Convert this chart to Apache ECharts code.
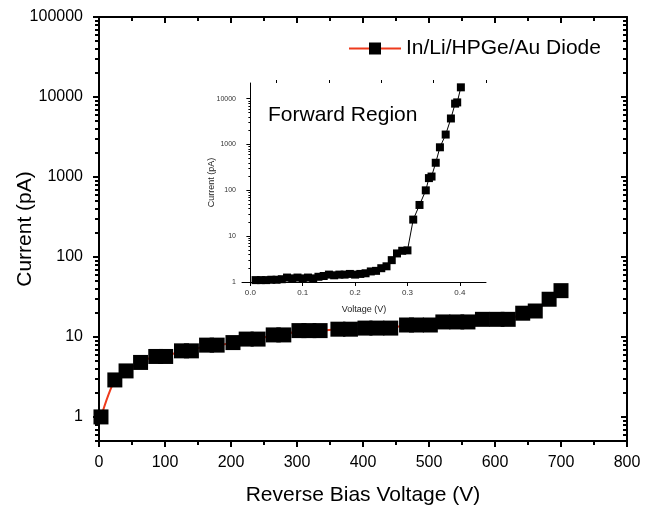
<!DOCTYPE html>
<html>
<head>
<meta charset="utf-8">
<script src="https://cdn.jsdelivr.net/npm/echarts@6/dist/echarts.min.js"></script>
<style>
html, body { margin: 0; padding: 0; background: #fff; }
#chart { width: 656px; height: 513px; }
</style>
</head>
<body>
<div id="chart"></div>
<script>
// reverse bias sweep (main plot)
const reverseVoltage = [3, 24, 41, 63, 86, 101, 125, 140, 163, 179, 203, 223, 241, 264, 280, 303, 318, 335,
  362, 381, 403, 421, 442, 466, 481, 502, 521, 542, 559, 581, 603, 620, 642, 661, 682, 700]
const reverseCurrent = [1.0, 2.9, 3.76, 4.8, 5.7, 5.7, 6.7, 6.7, 7.9, 7.9, 8.5, 9.4, 9.4, 10.6, 10.6, 12.0, 12.0, 12.0,
  12.5, 12.5, 12.9, 12.9, 12.9, 14.1, 14.1, 14.1, 15.4, 15.4, 15.4, 16.6, 16.6, 16.6, 19.8, 21.1, 29.6, 37.9]

// forward region (inset)
const forwardVoltage = [0.01, 0.02, 0.03, 0.04, 0.05, 0.06, 0.07, 0.08, 0.09, 0.10, 0.11, 0.12, 0.13, 0.14, 0.15,
  0.16, 0.17, 0.18, 0.19, 0.20, 0.21, 0.22, 0.23, 0.24, 0.25, 0.26, 0.27, 0.28, 0.29, 0.30,
  0.311, 0.323, 0.335, 0.341, 0.346, 0.354, 0.362, 0.373, 0.383, 0.391, 0.395, 0.402]
const forwardCurrent = [1.1, 1.1, 1.1, 1.12, 1.12, 1.15, 1.25, 1.2, 1.25, 1.2, 1.25, 1.2, 1.3, 1.35, 1.45,
  1.4, 1.45, 1.45, 1.5, 1.45, 1.5, 1.55, 1.7, 1.75, 2.0, 2.2, 3.0, 4.2, 4.8, 4.9,
  23, 48, 100, 185, 200, 400, 870, 1650, 3700, 7800, 8300, 17700]

const mainYTicks = [1, 10, 100, 1000, 10000, 100000]
const insetYTicks = [1, 10, 100, 1000, 10000]
const insetXTicks = [0, 0.1, 0.2, 0.3, 0.4]
const insetXMinor = [0.05, 0.15, 0.25, 0.35, 0.45]

function minorLog(from, to) {
  const out = []
  for (let d = from; d < to; d *= 10) {
    for (let k = 2; k <= 9; k++) out.push(k * d)
  }
  return out
}
const mainYMinor = minorLog(0.1, 100000).filter(v => v >= 0.5)
const insetYMinor = minorLog(1, 10000).filter(v => v <= 22000)

const FONT = 'Liberation Sans'
const black = '#000'

const chart = echarts.init(document.getElementById('chart'))

function logAxis(opt) {
  return Object.assign({
    type: 'log',
    logBase: 10,
    splitLine: { show: false },
    axisLabel: { show: false },
    axisLine: { show: false }
  }, opt)
}

chart.setOption({
  animation: false,
  backgroundColor: '#fff',
  textStyle: { fontFamily: FONT },
  grid: [
    { left: 99, right: 29, top: 17, bottom: 72, outerBoundsMode: 'none', containLabel: false },
    { left: 242, right: 170, top: 83, bottom: 231, outerBoundsMode: 'none', containLabel: false }
  ],
  legend: {
    data: ['In/Li/HPGe/Au Diode'],
    left: 343,
    top: 33,
    itemWidth: 52,
    itemHeight: 15,
    itemGap: 6,
    textStyle: { fontSize: 21, color: black, fontFamily: FONT }
  },
  graphic: [{
    type: 'text',
    left: 268,
    top: 105,
    style: { text: 'Forward Region', fontSize: 21, fontFamily: FONT, fill: black }
  }],
  xAxis: [
    {
      gridIndex: 0,
      type: 'value',
      position: 'bottom',
      min: 0,
      max: 800,
      interval: 100,
      name: 'Reverse Bias Voltage (V)',
      nameLocation: 'middle',
      nameGap: 44,
      nameMoveOverlap: false,
      nameTextStyle: { fontSize: 21, color: black, fontFamily: FONT },
      axisLine: { lineStyle: { color: black, width: 2 } },
      axisTick: { length: 6, lineStyle: { color: black, width: 2 } },
      minorTick: { show: true, splitNumber: 2, length: 4, lineStyle: { color: black, width: 2 } },
      axisLabel: { fontSize: 16, color: black, margin: 14, fontFamily: FONT },
      splitLine: { show: false }
    },
    {
      gridIndex: 0,
      type: 'value',
      position: 'top',
      min: 0,
      max: 800,
      interval: 100,
      axisLine: { lineStyle: { color: black, width: 2 } },
      axisTick: { inside: true, length: 6, lineStyle: { color: black, width: 2 } },
      minorTick: { show: true, splitNumber: 2, length: 4, lineStyle: { color: black, width: 2 } },
      axisLabel: { show: false },
      splitLine: { show: false }
    },
    {
      gridIndex: 1,
      type: 'value',
      min: -0.016,
      max: 0.45,
      name: 'Voltage (V)',
      nameLocation: 'middle',
      nameGap: 23,
      nameMoveOverlap: false,
      nameTextStyle: { fontSize: 9, color: '#222', fontFamily: FONT },
      axisLine: { lineStyle: { color: black, width: 1 } },
      axisTick: { customValues: insetXTicks, length: 4, lineStyle: { color: black } },
      axisLabel: {
        customValues: insetXTicks,
        formatter: v => v.toFixed(1),
        fontSize: 8, color: '#333', margin: 7, fontFamily: FONT
      },
      splitLine: { show: false }
    },
    {
      gridIndex: 1,
      type: 'value',
      min: -0.016,
      max: 0.45,
      axisLine: { show: false },
      axisTick: { customValues: insetXMinor, length: 3, lineStyle: { color: black } },
      axisLabel: { show: false },
      splitLine: { show: false }
    }
  ],
  yAxis: [
    logAxis({
      gridIndex: 0,
      position: 'left',
      min: 0.5,
      max: 100000,
      name: 'Current (pA)',
      nameLocation: 'middle',
      nameGap: 63,
      nameMoveOverlap: false,
      nameTextStyle: { fontSize: 21, color: black, fontFamily: FONT },
      axisLine: { show: true, lineStyle: { color: black, width: 2 } },
      axisTick: { customValues: mainYTicks, length: 6, lineStyle: { color: black, width: 2 } },
      axisLabel: {
        customValues: mainYTicks,
        formatter: v => String(Math.round(v)),
        fontSize: 16, color: black, margin: 16, fontFamily: FONT
      }
    }),
    logAxis({
      gridIndex: 0,
      position: 'left',
      min: 0.5,
      max: 100000,
      axisTick: { customValues: mainYMinor, length: 4, lineStyle: { color: black, width: 2 } }
    }),
    logAxis({
      gridIndex: 0,
      position: 'right',
      min: 0.5,
      max: 100000,
      axisLine: { show: true, lineStyle: { color: black, width: 2 } },
      axisTick: { inside: true, customValues: mainYTicks, length: 6, lineStyle: { color: black, width: 2 } }
    }),
    logAxis({
      gridIndex: 0,
      position: 'right',
      min: 0.5,
      max: 100000,
      axisTick: { inside: true, customValues: mainYMinor, length: 4, lineStyle: { color: black, width: 2 } }
    }),
    logAxis({
      gridIndex: 1,
      position: 'left',
      min: 1,
      max: 22000,
      name: 'Current (pA)',
      nameLocation: 'middle',
      nameGap: 26,
      nameMoveOverlap: false,
      nameTextStyle: { fontSize: 9, color: '#222', fontFamily: FONT },
      axisLine: { show: true, lineStyle: { color: black, width: 1 } },
      axisTick: { customValues: insetYTicks, length: 4, lineStyle: { color: black } },
      axisLabel: {
        customValues: insetYTicks,
        formatter: v => String(Math.round(v)),
        fontSize: 7, color: '#333', margin: 6, fontFamily: FONT
      }
    }),
    logAxis({
      gridIndex: 1,
      position: 'left',
      min: 1,
      max: 22000,
      axisTick: { customValues: insetYMinor, length: 2, lineStyle: { color: black } }
    })
  ],
  series: [
    {
      name: 'In/Li/HPGe/Au Diode',
      type: 'line',
      xAxisIndex: 0,
      yAxisIndex: 0,
      smooth: 0.3,
      symbol: 'rect',
      symbolSize: 15,
      itemStyle: { color: black },
      lineStyle: { color: '#ee3a1c', width: 2 },
      data: reverseVoltage.map((v, i) => [v, reverseCurrent[i]])
    },
    {
      name: 'Forward',
      type: 'line',
      xAxisIndex: 2,
      yAxisIndex: 4,
      symbol: 'rect',
      symbolSize: 8,
      itemStyle: { color: black },
      lineStyle: { color: black, width: 1 },
      data: forwardVoltage.map((v, i) => [v, forwardCurrent[i]])
    }
  ]
})
</script>
</body>
</html>
